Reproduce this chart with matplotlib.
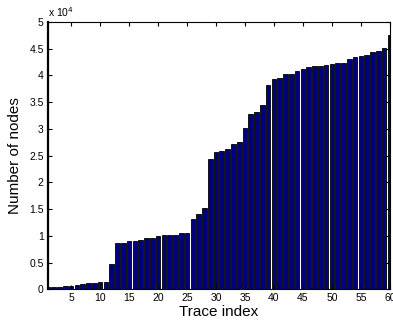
import numpy as np
import matplotlib
matplotlib.use("Agg")
import matplotlib.pyplot as plt

# number of nodes per trace (sorted)
trace_index = list(range(1, 61))
nodes = [400, 500, 500, 700, 700, 800, 1000, 1250, 1250, 1400,
         1400, 4800, 8600, 8600, 9000, 9000, 9200, 9600, 9600, 9900,
         10100, 10200, 10200, 10500, 10500, 13150, 14100, 15200, 24430, 25740,
         25930, 26190, 27180, 27500, 30100, 32700, 33100, 34400, 38300, 39300,
         39500, 40200, 40300, 40900, 41200, 41500, 41800, 41800, 41900, 42100,
         42300, 42400, 43100, 43500, 43600, 43800, 44300, 44600, 45100, 47570]
xticks = list(range(5, 61, 5))
yticks = [0, 0.5, 1, 1.5, 2, 2.5, 3, 3.5, 4, 4.5, 5]
ytick_labels = ["0", "0.5", "1", "1.5", "2", "2.5", "3", "3.5", "4", "4.5", "5"]

plt.rcParams["font.family"] = ["Liberation Sans", "DejaVu Sans"]

fig = plt.figure(figsize=(3.93, 3.26), dpi=100)
ax = fig.add_axes([0.122, 0.1126, 0.870, 0.82])

scaled = np.array(nodes) / 1e4
ax.bar(trace_index, scaled, width=0.8, color="#00007f", edgecolor="black", linewidth=0.6)

ax.set_xlim(1, 60)
ax.set_ylim(0, 5)
ax.set_xticks(xticks)
ax.set_yticks(yticks)
ax.set_yticklabels(ytick_labels)
ax.tick_params(direction="in", length=3, width=0.8, labelsize=7.5, top=True, right=True, pad=3)
for s in ax.spines.values():
    s.set_linewidth(0.8)
ax.spines["left"].set_linewidth(1.6)

ax.text(0.0, 1.012, "x 10$^4$", transform=ax.transAxes, fontsize=7.5, ha="left", va="bottom")

ax.set_xlabel("Trace index", fontsize=11, labelpad=1)
ax.set_ylabel("Number of nodes", fontsize=11, labelpad=5)

fig.savefig("out.png", dpi=100)
